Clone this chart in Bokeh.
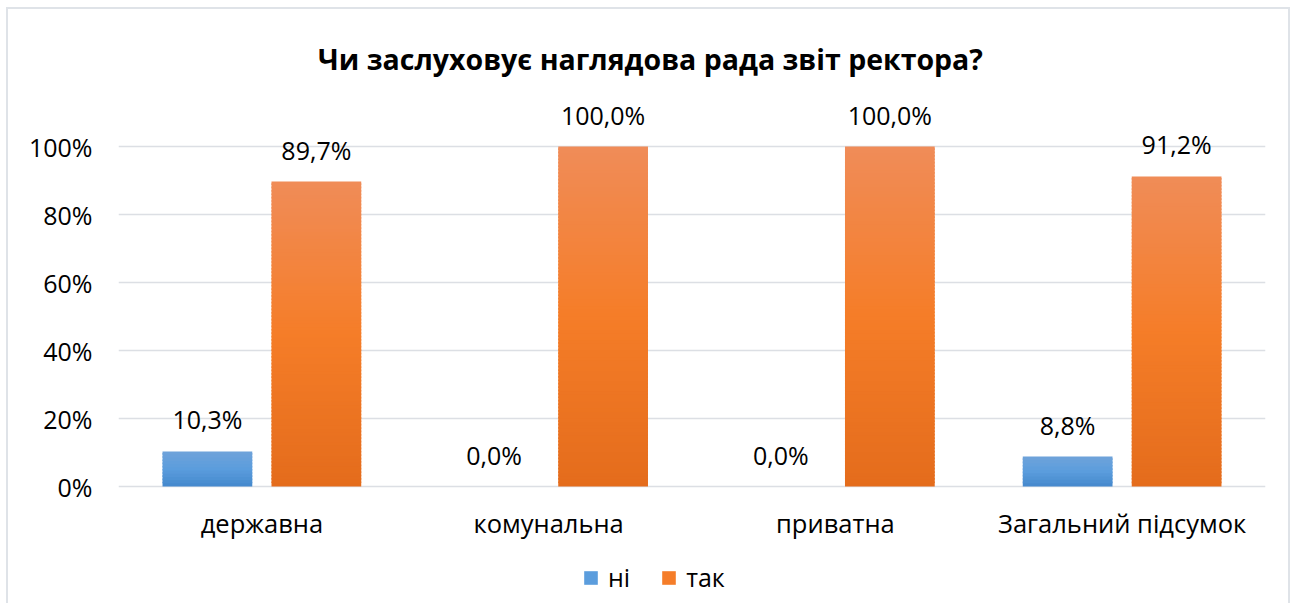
import math
from bokeh.plotting import figure
from bokeh.models import Range1d, FixedTicker, CustomJSTickFormatter, Legend, LegendItem, ColumnDataSource
from bokeh.core.properties import value
from bokeh.embed import file_html
from bokeh.resources import INLINE

# ---- data ----
title = "Чи заслуховує наглядова рада звіт ректора?"
categories = ["державна", "комунальна", "приватна", "Загальний підсумок"]
series_names = ["ні", "так"]
ni_values = [0.103, 0.0, 0.0, 0.088]
tak_values = [0.897, 1.0, 1.0, 0.912]
y_ticks = [0, 0.2, 0.4, 0.6, 0.8, 1.0]

# ---- styles ----
FONT = "Open Sans"
blue_stops = [(68, 136, 204), (91, 157, 221), (111, 163, 218)]    # bottom, middle, top
orange_stops = [(228, 108, 28), (245, 125, 40), (240, 140, 88)]
SLICE = 0.01                 # gradient slice height in axis units
BAR_W = 0.313
DODGE = 0.19

W, H = 1284, 596
FRAME_LEFT, FRAME_RIGHT = 110, 27
ZERO_FROM_TOP = 477          # canvas y of the 0% line
PX_PER_UNIT = 340.0          # 0% -> 100% spacing
Y_TOP = ZERO_FROM_TOP / PX_PER_UNIT
Y_BOTTOM = -(H - ZERO_FROM_TOP) / PX_PER_UNIT
UNIT_X = (W - FRAME_LEFT - FRAME_RIGHT) / len(categories)

def grad(stops, t):
    if t <= 0.5:
        a, b, u = stops[0], stops[1], t / 0.5
    else:
        a, b, u = stops[1], stops[2], (t - 0.5) / 0.5
    c = [round(a[k] + (b[k] - a[k]) * u) for k in range(3)]
    return "#%02x%02x%02x" % tuple(c)

p = figure(width=W, height=H, output_backend="svg", toolbar_location=None,
           x_range=Range1d(0, len(categories)),
           y_range=Range1d(Y_BOTTOM, Y_TOP),
           min_border_left=FRAME_LEFT, min_border_right=FRAME_RIGHT,
           min_border_top=0, min_border_bottom=0)
p.outline_line_color = None
p.background_fill_color = "white"
p.border_fill_color = "white"
p.styles = {"margin-left": "6px", "margin-top": "7px",
            "border-top": "2px solid #dfe3e8", "border-left": "2px solid #dfe3e8",
            "border-right": "2px solid #dfe3e8"}

p.xgrid.grid_line_color = None
p.xaxis.visible = False
p.ygrid.grid_line_color = "#dcdfe4"
p.ygrid.grid_line_width = 1.5
p.yaxis.ticker = FixedTicker(ticks=y_ticks)
p.yaxis.formatter = CustomJSTickFormatter(code="return Math.round(tick*100) + '%';")
p.yaxis.axis_line_color = None
p.yaxis.major_tick_line_color = None
p.yaxis.minor_tick_line_color = None
p.yaxis.major_label_text_font = FONT
p.yaxis.major_label_text_font_size = "25px"
p.yaxis.major_label_text_color = "#000000"
p.yaxis.major_label_standoff = 20

cat_pos = [i + 0.5 for i in range(len(categories))]

# category labels under the 0% line
p.text(x=cat_pos, y=[0] * len(cat_pos), text=categories, text_font=value(FONT),
       text_font_size="25.5px", text_color="#000000", text_align="center",
       text_baseline="middle", y_offset=36)

# gradient bars: overlapping slices of each bar
renderers = []
for vals, stops, off in [(ni_values, blue_stops, -DODGE), (tak_values, orange_stops, DODGE)]:
    xs, bots, tops, cols = [], [], [], []
    for i, v in enumerate(vals):
        n = max(1, math.ceil(v / SLICE))
        for s in range(n):
            xs.append(cat_pos[i] + off)
            bots.append(v * s / n)
            tops.append(min(v, v * (s + 1.5) / n))
            cols.append(grad(stops, (s + 0.5) / n))
    src = ColumnDataSource(dict(x=xs, bottom=bots, top=tops, color=cols))
    r = p.vbar(x="x", bottom="bottom", top="top", width=BAR_W, source=src,
               fill_color="color", line_color=None)
    renderers.append((r, len(xs)))

# data labels
for vals, off in [(ni_values, -DODGE), (tak_values, DODGE)]:
    lab = [("%.1f%%" % (v * 100)).replace(".", ",") for v in vals]
    src = ColumnDataSource(dict(x=[c + off for c in cat_pos], y=vals, t=lab))
    p.text(x="x", y="y", text="t", source=src, text_font=value(FONT),
           text_font_size="25px", text_color="#000000", text_align="center",
           text_baseline="middle", y_offset=-32)

# title
title_x = (W / 2 - FRAME_LEFT) / UNIT_X
p.text(x=[title_x], y=[(ZERO_FROM_TOP - 49) / PX_PER_UNIT], text=[title],
       text_font=value(FONT), text_font_style="bold", text_font_size="28.5px",
       text_color="#000000", text_align="center", text_baseline="middle")

# legend (middle slice of the first bar of each series as the swatch)
legend = Legend(items=[LegendItem(label=series_names[0], renderers=[renderers[0][0]],
                                  index=math.ceil(ni_values[0] / SLICE) // 2),
                       LegendItem(label=series_names[1], renderers=[renderers[1][0]],
                                  index=math.ceil(tak_values[0] / SLICE) // 2)],
                orientation="horizontal", location=(464, 11),
                label_text_font=FONT, label_text_font_size="25px", label_text_color="#000000",
                glyph_width=17, glyph_height=17, label_standoff=9, spacing=30,
                border_line_color=None, background_fill_alpha=0, padding=0, margin=0)
p.add_layout(legend, "center")

open("out.html", "w").write(file_html(p, INLINE))
